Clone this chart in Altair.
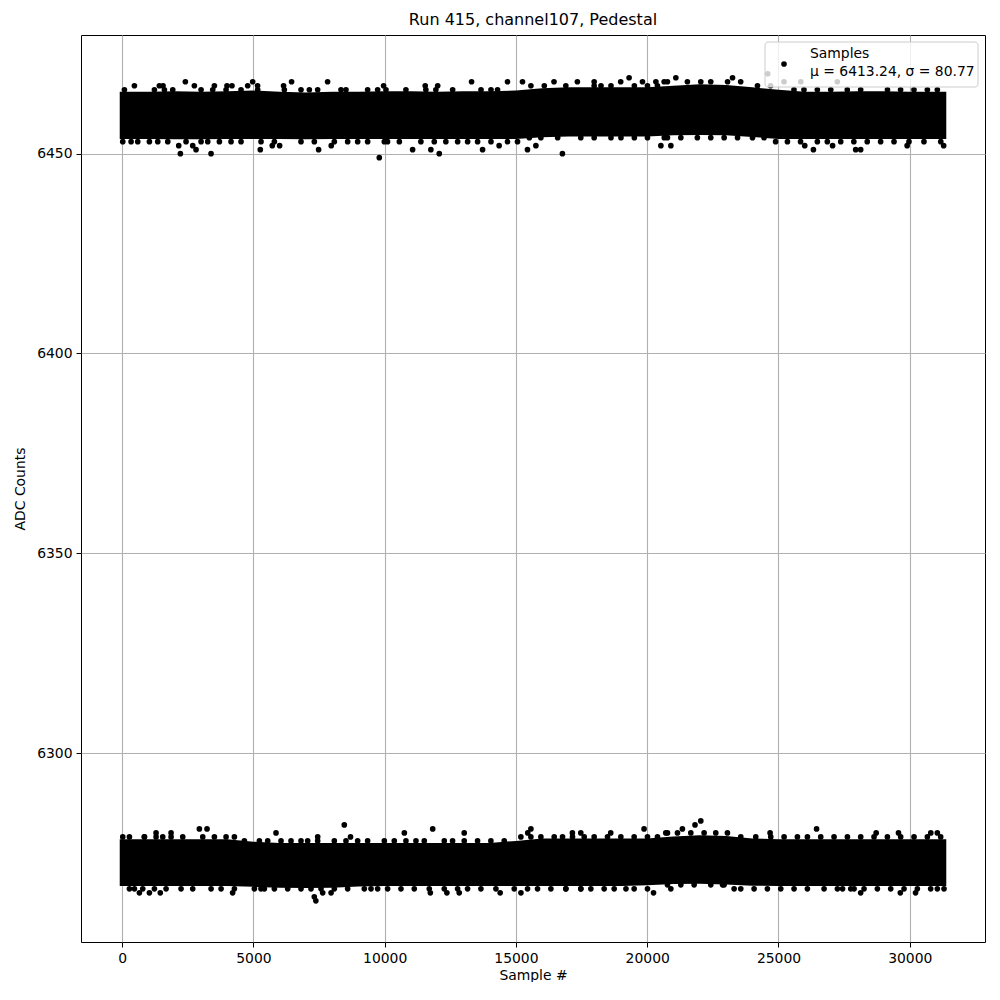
import altair as alt
import pandas as pd

FONT = "DejaVu Sans"

# Solid core of each band (envelope): sample -> ADC edge
env_x = [-90, 1000, 2000, 3000, 4000, 5000, 6000, 7000, 8000, 9000, 10000, 11000,
         12000, 13000, 14000, 15000, 16000, 17000, 18000, 19000, 20000, 21000,
         22000, 23000, 24000, 25000, 26000, 27000, 28000, 29000, 30000, 31390]
top_hi = [6465.5, 6465.5, 6465.6, 6465.5, 6465.6, 6465.8, 6465.5, 6465.3, 6465.5, 6465.5,
          6465.6, 6465.6, 6465.5, 6465.6, 6465.6, 6465.8, 6466.4, 6466.6, 6466.6, 6466.6,
          6466.6, 6467.0, 6467.4, 6467.2, 6466.6, 6466.0, 6465.5, 6465.5, 6465.6, 6465.6,
          6465.5, 6465.5]
top_lo = [6453.7, 6453.7, 6453.6, 6453.6, 6453.7, 6453.7, 6453.7, 6453.6, 6453.7, 6453.7,
          6453.7, 6453.7, 6453.7, 6453.7, 6453.7, 6453.7, 6454.1, 6454.3, 6454.3, 6454.3,
          6454.3, 6454.6, 6454.7, 6454.6, 6454.2, 6453.7, 6453.7, 6453.7, 6453.7, 6453.7,
          6453.7, 6453.7]
bot_hi = [6278.4, 6278.4, 6278.4, 6278.4, 6278.4, 6277.8, 6277.5, 6277.5, 6277.5, 6277.5,
          6277.5, 6277.5, 6277.5, 6277.5, 6277.5, 6278.0, 6278.6, 6278.6, 6278.6, 6278.6,
          6278.6, 6279.1, 6279.4, 6279.2, 6278.6, 6278.4, 6278.4, 6278.4, 6278.4, 6278.4,
          6278.4, 6278.4]
bot_lo = [6266.7, 6266.7, 6266.7, 6266.7, 6266.7, 6266.5, 6266.3, 6266.2, 6266.3, 6266.6,
          6266.7, 6266.7, 6266.7, 6266.7, 6266.7, 6266.7, 6266.7, 6266.7, 6266.7, 6266.7,
          6266.9, 6267.2, 6267.3, 6267.1, 6266.8, 6266.7, 6266.7, 6266.7, 6266.7, 6266.7,
          6266.7, 6266.7]

# Samples on the ragged edges of the cores
edge_x = (
    [89, 1231, 1612, 1929, 3008, 3452, 3960, 4530, 5165, 6180, 6814, 7132, 7449, 8337, 8527,
     9352, 9733, 10050, 10810, 11570, 11950, 12590, 13670, 14050, 14300]
    + [15570, 16080, 16900, 17980, 18240, 18620, 19510, 20010, 20390]
    + [20645, 20770, 21530, 22040, 22420, 23060]
    + [24200, 24700]
    + [25590, 25970, 26480, 26990, 27620, 28130, 29150, 29650, 30160, 30670, 31050]
    + [25, 343, 596, 1040, 1358, 1739, 2436, 3008, 3262, 3706, 4150, 4530, 5292, 5800, 6814,
       7322, 8083, 8591, 8972, 9352, 9987, 10110, 10560, 11380, 11890, 12330, 12780, 13160,
       13540, 14050, 14680, 15060]
    + [15510, 15950, 16590, 17470, 17980, 18620, 19000, 19510, 20010, 20650, 20770, 21280,
       21910, 22420, 22930, 23440, 24010, 24450]
    + [24890, 25340, 25840, 26480, 26860, 27370, 27870, 28380, 28890, 29400, 29970, 30540, 31180]
    + [25, 279, 850, 1294, 1548, 1866, 2310, 3072, 3516, 3960, 4277]
    + [4658, 5229, 5546, 6053, 6434, 6814, 7068, 7449, 8083, 8527, 8972, 9352, 9987, 10367,
       10811, 11192, 11509, 12270, 12587, 13031, 13539, 14046, 14554]
    + [15188, 15569, 15950, 16458, 16775, 17155, 17600, 17980, 18488, 18995, 19503, 20010, 20391]
    + [20708, 20772, 21152, 21660, 22167, 22611, 23055]
    + [23563, 24134, 24705, 25213, 25720, 26101, 26609, 27116, 27624, 28132, 28639, 29147,
       29654, 30162, 30670, 31177]
    + [279, 470, 787, 1231, 1675, 2246, 2690, 3389, 3770, 4277, 5038, 5419, 5800, 6307, 6814,
       7195, 7576, 8083, 8591, 9225, 9733, 10113, 10621, 11128, 11699, 12270, 12778, 13158,
       13666, 14237, 14935, 15442, 15823, 16331, 16902, 17473, 17853, 18361, 18742, 19503, 20010]
    + [20772, 21280, 21787, 22421, 22929]
    + [23563, 24071, 24578, 25086, 25593, 26101, 26736, 27243, 27751, 28258, 28766, 29274,
       29781, 30289, 30796, 31304]
)
edge_y = (
    [6466] * 25 + [6467] * 9 + [6468] * 6 + [6467] * 2 + [6466] * 11
    + [6453] * 32 + [6454] * 18 + [6453] * 13
    + [6279] * 11 + [6278] * 23 + [6279] * 13 + [6280] * 7 + [6279] * 16
    + [6266] * 41 + [6267] * 5 + [6266] * 16
)

# Isolated samples further out
out_x = [469, 1420, 1560, 2410, 2753, 3515, 3995, 4185, 4784, 4974, 5160, 6150, 6455, 7827, 9960,
         11545, 12020, 13310, 14680, 15250, 16450, 17340, 17980, 18990, 19310, 19820, 20330,
         21090, 23250, 23560, 24590, 25210, 25850, 27240,
         2157, 2220, 2690, 2817, 3388, 5264, 5720, 6000, 7484, 7966, 9796,
         11065, 11760, 12080, 13730, 14360, 15440, 15760, 16770, 20520,
         20900, 26000, 26330, 27060, 27940, 28130, 29900, 31290,
         850, 1294, 1865, 2943, 3235, 5862, 7450, 8463, 8700,
         10750, 11830, 13030, 15570, 15450, 17150, 17470, 18610, 19880,
         21340, 21820, 22040, 24680, 26450, 28720, 29570, 30800, 31050,
         660, 1040, 1455, 4210, 5290, 7320, 7380, 7640, 7960, 9480,
         11740, 12370, 12840, 14400, 15190, 16900, 17470, 19190, 20240,
         20900, 22870, 23310, 27440, 27880, 28130, 29640, 30220, 31050]
out_y = [6467, 6467, 6467, 6468, 6467, 6467, 6467, 6467, 6467, 6468, 6467, 6467, 6468, 6468, 6467,
         6467, 6467, 6468, 6468, 6468, 6468, 6468, 6468, 6468, 6469, 6468, 6468,
         6469, 6469, 6468, 6470, 6468, 6468, 6468,
         6452, 6450, 6452, 6451, 6450, 6451, 6452, 6452, 6451, 6452, 6449,
         6451, 6451, 6450, 6451, 6452, 6451, 6452, 6450, 6452,
         6452, 6452, 6451, 6452, 6451, 6451, 6452, 6452,
         6279, 6280, 6280, 6281, 6281, 6280, 6279, 6282, 6279,
         6280, 6281, 6280, 6281, 6280, 6280, 6280, 6280, 6281,
         6281, 6282, 6283, 6280, 6281, 6280, 6280, 6280, 6280,
         6265, 6265, 6265, 6265, 6266, 6264, 6263, 6265, 6265, 6266,
         6265, 6265, 6265, 6265, 6265, 6266, 6266, 6266, 6265,
         6266, 6267, 6266, 6266, 6266, 6265, 6265, 6265, 6266]

x_ticks = [0, 5000, 10000, 15000, 20000, 25000, 30000]
y_ticks = [6300, 6350, 6400, 6450]
title = "Run 415, channel107, Pedestal"
legend_lines = ["Samples", "μ = 6413.24, σ = 80.77"]

top_df = pd.DataFrame({"x": env_x, "hi": top_hi, "lo": top_lo})
bot_df = pd.DataFrame({"x": env_x, "hi": bot_hi, "lo": bot_lo})
pts_df = pd.DataFrame({"x": edge_x + out_x, "y": edge_y + out_y})

W, H = 904, 907
xscale = alt.Scale(domain=[-1565, 32865], nice=False, zero=False)
yscale = alt.Scale(domain=[6252.7, 6479.7], nice=False, zero=False)

axis_common = dict(
    labelFont=FONT, labelFontSize=13.9, titleFont=FONT, titleFontSize=13.9,
    titleFontWeight="normal", labelColor="black", titleColor="black",
    tickColor="black", tickSize=5, tickWidth=1, labelPadding=4,
    gridColor="#b0b0b0", gridWidth=1.1, domain=False, format="d",
)

xenc = alt.X("x:Q", scale=xscale,
             axis=alt.Axis(values=x_ticks, title="Sample #", titlePadding=4, **axis_common))
yenc_axis = alt.Axis(values=y_ticks, title="ADC Counts", titlePadding=9, **axis_common)

top_area = alt.Chart(top_df).mark_area(color="black", opacity=1).encode(
    x=xenc,
    y=alt.Y("hi:Q", scale=yscale, axis=yenc_axis),
    y2="lo:Q",
)
bot_area = alt.Chart(bot_df).mark_area(color="black", opacity=1).encode(
    x="x:Q", y="hi:Q", y2="lo:Q"
)
pts = alt.Chart(pts_df).mark_circle(color="black", size=32, opacity=1).encode(
    x="x:Q", y="y:Q"
)

one = pd.DataFrame({"k": [0]})
leg_box = alt.Chart(one).mark_rect(
    fill="white", fillOpacity=0.8, stroke="#cccccc", strokeWidth=1, cornerRadius=3
).encode(x=alt.value(684), x2=alt.value(897), y=alt.value(7), y2=alt.value(52))
leg_pt = alt.Chart(one).mark_circle(color="black", size=32, opacity=1).encode(
    x=alt.value(703), y=alt.value(29)
)
leg_t1 = alt.Chart(one).mark_text(
    text=legend_lines[0], font=FONT, fontSize=13.9, align="left", baseline="middle", color="black"
).encode(x=alt.value(729), y=alt.value(19))
leg_t2 = alt.Chart(one).mark_text(
    text=legend_lines[1], font=FONT, fontSize=13.9, align="left", baseline="middle", color="black"
).encode(x=alt.value(729), y=alt.value(36.5))

chart = alt.layer(top_area, bot_area, pts, leg_box, leg_pt, leg_t1, leg_t2).properties(
    width=W, height=H,
    title=alt.TitleParams(title, font=FONT, fontSize=16, fontWeight="normal",
                          color="black", offset=7, anchor="middle"),
    autosize=alt.AutoSizeParams(type="none"),
    padding={"left": 73, "top": 27, "right": 4, "bottom": 40},
).configure_view(stroke="black", strokeWidth=1)

chart.save("out.html", embed_options={"renderer": "svg", "actions": False})
